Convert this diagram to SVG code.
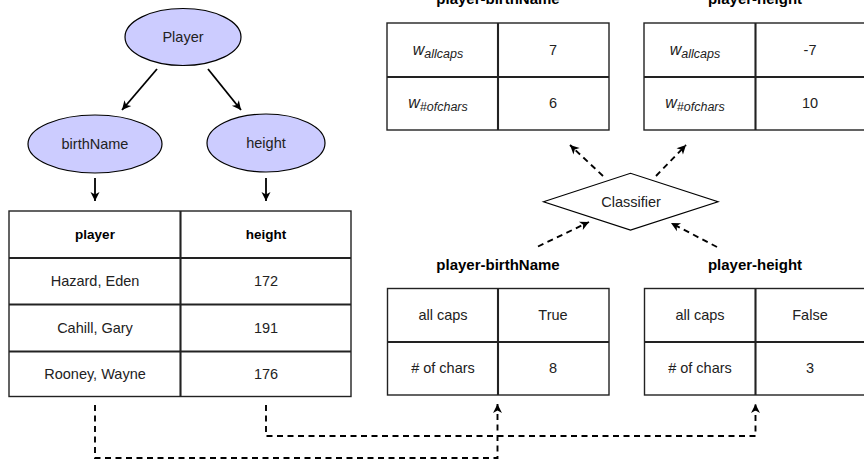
<svg xmlns="http://www.w3.org/2000/svg" width="864" height="459" viewBox="0 0 864 459">
<defs>
<marker id="ah" markerUnits="userSpaceOnUse" markerWidth="12" markerHeight="12" viewBox="0 0 12 12" refX="10" refY="6" orient="auto">
<path d="M1,1.5 L10,6 L1,10.5 L3.5,6 Z" fill="#000"/>
</marker>
</defs>
<style>
text{font-family:"Liberation Sans",Arial,sans-serif;font-size:14.5px;fill:#222;text-anchor:middle}
.b{font-weight:bold;font-size:13.5px;fill:#000}
.t{font-weight:bold;font-size:15px;fill:#000}
.el{fill:#ccccff;stroke:#000;stroke-width:1.2}
.tb{fill:#fff;stroke:#222;stroke-width:1.4}
.dv{stroke:#222;stroke-width:2.1;fill:none}
.sol{stroke:#000;stroke-width:1.8;fill:none;marker-end:url(#ah)}
.dsh{stroke:#000;stroke-width:1.9;fill:none;stroke-dasharray:6,4.5}
.it{font-style:italic}
.sub{font-style:italic;font-size:12.5px}
</style>

<g id="player">
<ellipse class="el" cx="183" cy="37" rx="58" ry="28.5"/>
<text x="183" y="42">Player</text>
</g>
<g id="birthName">
<ellipse class="el" cx="95" cy="144" rx="67" ry="29"/>
<text x="95" y="149">birthName</text>
</g>
<g id="height">
<ellipse class="el" cx="266" cy="143" rx="59" ry="29"/>
<text x="266" y="148">height</text>
</g>

<g id="table-main">
<rect class="tb" x="9" y="211" width="342" height="185.5"/>
<path class="dv" d="M9,258 H351 M9,304.5 H351 M9,351.5 H351 M180.5,211 V396.5"/>
<text class="b" x="95" y="239">player</text>
<text class="b" x="266" y="239">height</text>
<text x="95" y="286">Hazard, Eden</text>
<text x="266" y="286">172</text>
<text x="95" y="333">Cahill, Gary</text>
<text x="266" y="333">191</text>
<text x="95" y="379">Rooney, Wayne</text>
<text x="266" y="379">176</text>
</g>

<g id="weights-birthName">
<text class="t" x="498" y="4">player-birthName</text>
<rect class="tb" x="387" y="23" width="222" height="107"/>
<path class="dv" d="M387,77 H609 M498,23 V130"/>
<text x="438" y="55"><tspan class="it" font-size="16">w</tspan><tspan class="sub" dy="3">allcaps</tspan></text>
<text x="553" y="55">7</text>
<text x="438" y="108"><tspan class="it" font-size="16">w</tspan><tspan class="sub" dy="3">#ofchars</tspan></text>
<text x="553" y="108">6</text>
</g>

<g id="weights-height">
<text class="t" x="755" y="4">player-height</text>
<rect class="tb" x="644" y="23" width="222" height="107"/>
<path class="dv" d="M644,77 H866 M755.5,23 V130"/>
<text x="695" y="55"><tspan class="it" font-size="16">w</tspan><tspan class="sub" dy="3">allcaps</tspan></text>
<text x="810" y="55">-7</text>
<text x="695" y="108"><tspan class="it" font-size="16">w</tspan><tspan class="sub" dy="3">#ofchars</tspan></text>
<text x="810" y="108">10</text>
</g>

<g id="classifier">
<polygon points="543.5,201.7 630.5,173.3 718,201.7 630.5,230" fill="#fff" stroke="#000" stroke-width="1.2"/>
<text x="631" y="207">Classifier</text>
</g>

<g id="features-birthName">
<text class="t" x="498" y="270">player-birthName</text>
<rect class="tb" x="387.5" y="288.5" width="221.5" height="106.5"/>
<path class="dv" d="M387.5,342 H609 M498,288.5 V395"/>
<text x="443" y="320">all caps</text>
<text x="553" y="320">True</text>
<text x="443" y="373"># of chars</text>
<text x="553" y="373">8</text>
</g>

<g id="features-height">
<text class="t" x="755" y="270">player-height</text>
<rect class="tb" x="644.5" y="288.5" width="222" height="106.5"/>
<path class="dv" d="M644.5,342 H866 M755.5,288.5 V395"/>
<text x="700" y="320">all caps</text>
<text x="810" y="320">False</text>
<text x="700" y="373"># of chars</text>
<text x="810" y="373">3</text>
</g>

<g id="connectors">
<line class="sol" x1="157" y1="69" x2="122" y2="110"/>
<line class="sol" x1="208" y1="69" x2="241" y2="110"/>
<line class="sol" x1="95" y1="178" x2="95" y2="201"/>
<line class="sol" x1="266" y1="178" x2="266" y2="201"/>
<path class="dsh" d="M95,405 V458 H497.5 V404" marker-end="url(#ah)"/>
<path class="dsh" d="M266,405 V436 H755.5 V404" marker-end="url(#ah)"/>
<line class="dsh" x1="603" y1="176" x2="570" y2="145" marker-end="url(#ah)"/>
<line class="dsh" x1="656" y1="176" x2="686" y2="145" marker-end="url(#ah)"/>
<line class="dsh" x1="538" y1="246.5" x2="589" y2="222" marker-end="url(#ah)"/>
<line class="dsh" x1="717" y1="247" x2="671" y2="223" marker-end="url(#ah)"/>
</g>
</svg>
